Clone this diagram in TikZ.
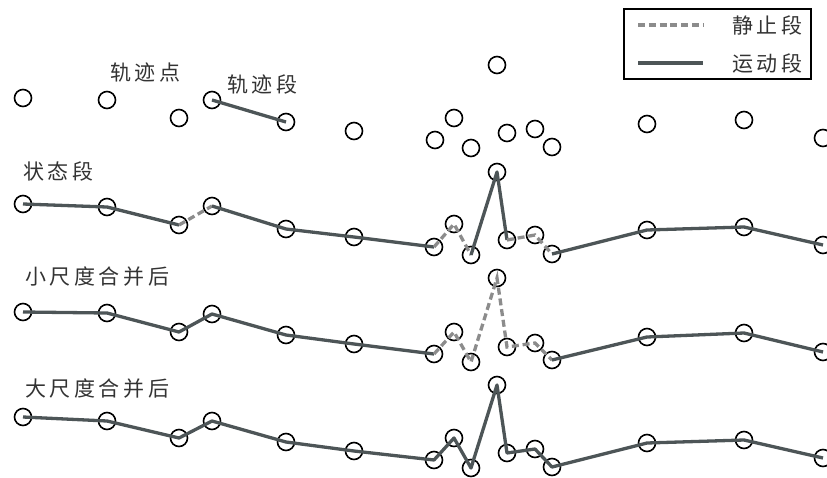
\documentclass[tikz,border=0pt]{standalone}
\usepackage{fontspec}
\newfontfamily\cjk{Noto Sans CJK SC}[LetterSpace=17]
\definecolor{movecol}{HTML}{4D5557}
\definecolor{stopcol}{HTML}{8C8C8C}
\definecolor{labcol}{HTML}{333333}
\tikzset{
  pt/.style={circle, draw=black, line width=1.6pt, minimum size=17pt, inner sep=0pt},
  move/.style={draw=movecol, line width=3.3pt, line join=round},
  stop/.style={draw=stopcol, line width=3.3pt, dash pattern=on 7pt off 3.8pt},
  lab/.style={font=\cjk\fontsize{21}{21}\selectfont, text=labcol, inner sep=0pt, anchor=west}
}
\begin{document}
\begin{tikzpicture}[x=1pt, y=-1pt]
  \useasboundingbox (0,0) rectangle (827,477);

  % trajectory points
  \node[pt] (a1) at (23, 98) {};
  \node[pt] (a2) at (107, 100) {};
  \node[pt] (a3) at (179, 118) {};
  \node[pt] (a4) at (212, 100) {};
  \node[pt] (a5) at (286, 122) {};
  \node[pt] (a6) at (354, 131) {};
  \node[pt] (a7) at (435, 140) {};
  \node[pt] (a8) at (454, 118) {};
  \node[pt] (a9) at (471, 148) {};
  \node[pt] (a10) at (497, 65) {};
  \node[pt] (a11) at (507, 133) {};
  \node[pt] (a12) at (535, 129) {};
  \node[pt] (a13) at (552, 147) {};
  \node[pt] (a14) at (647, 124) {};
  \node[pt] (a15) at (744, 120) {};
  \node[pt] (a16) at (823, 138) {};

  % state segments
  \node[pt] (b1) at (23, 204) {};
  \node[pt] (b2) at (107, 207) {};
  \node[pt] (b3) at (179, 225) {};
  \node[pt] (b4) at (212, 206) {};
  \node[pt] (b5) at (286, 229) {};
  \node[pt] (b6) at (354, 237) {};
  \node[pt] (b7) at (434, 247) {};
  \node[pt] (b8) at (454, 224) {};
  \node[pt] (b9) at (471, 255) {};
  \node[pt] (b10) at (497, 172) {};
  \node[pt] (b11) at (507, 240) {};
  \node[pt] (b12) at (535, 235) {};
  \node[pt] (b13) at (552, 254) {};
  \node[pt] (b14) at (647, 230) {};
  \node[pt] (b15) at (744, 227) {};
  \node[pt] (b16) at (823, 245) {};

  % small scale merge
  \node[pt] (c1) at (23, 312) {};
  \node[pt] (c2) at (107, 313) {};
  \node[pt] (c3) at (179, 332) {};
  \node[pt] (c4) at (212, 314) {};
  \node[pt] (c5) at (286, 335) {};
  \node[pt] (c6) at (354, 344) {};
  \node[pt] (c7) at (434, 354) {};
  \node[pt] (c8) at (454, 332) {};
  \node[pt] (c9) at (471, 362) {};
  \node[pt] (c10) at (497, 278) {};
  \node[pt] (c11) at (507, 347) {};
  \node[pt] (c12) at (535, 343) {};
  \node[pt] (c13) at (552, 360) {};
  \node[pt] (c14) at (647, 337) {};
  \node[pt] (c15) at (744, 333) {};
  \node[pt] (c16) at (823, 352) {};

  % large scale merge
  \node[pt] (d1) at (23, 417) {};
  \node[pt] (d2) at (107, 421) {};
  \node[pt] (d3) at (179, 438) {};
  \node[pt] (d4) at (212, 421) {};
  \node[pt] (d5) at (286, 442) {};
  \node[pt] (d6) at (354, 451) {};
  \node[pt] (d7) at (434, 460) {};
  \node[pt] (d8) at (454, 438) {};
  \node[pt] (d9) at (471, 468) {};
  \node[pt] (d10) at (497, 385) {};
  \node[pt] (d11) at (507, 453) {};
  \node[pt] (d12) at (535, 449) {};
  \node[pt] (d13) at (552, 467) {};
  \node[pt] (d14) at (647, 443) {};
  \node[pt] (d15) at (744, 440) {};
  \node[pt] (d16) at (823, 458) {};

  % segments
  \draw[move] (a4.center) -- (a5.center);

  \draw[move] (b1.center) -- (b2.center) -- (b3.center);
  \draw[stop] (b3.center) -- (b4.center);
  \draw[move] (b4.center) -- (b5.center) -- (b6.center) -- (b7.center);
  \draw[stop] (b7.center) -- (b8.center) -- (b9.center);
  \draw[move] (b9.center) -- (b10.center) -- (b11.center);
  \draw[stop] (b11.center) -- (b12.center) -- (b13.center);
  \draw[move] (b13.center) -- (b14.center) -- (b15.center) -- (b16.center);

  \draw[move] (c1.center) -- (c2.center) -- (c3.center) -- (c4.center) -- (c5.center) -- (c6.center) -- (c7.center);
  \draw[stop] (c7.center) -- (c8.center) -- (c9.center) -- (c10.center) -- (c11.center) -- (c12.center) -- (c13.center);
  \draw[move] (c13.center) -- (c14.center) -- (c15.center) -- (c16.center);

  \draw[move] (d1.center) -- (d2.center) -- (d3.center) -- (d4.center) -- (d5.center) -- (d6.center) -- (d7.center)
    -- (d8.center) -- (d9.center) -- (d10.center) -- (d11.center) -- (d12.center) -- (d13.center)
    -- (d14.center) -- (d15.center) -- (d16.center);

  % labels
  \node[lab] (tpoint) at (110, 73) {轨迹点};
  \node[lab] (tseg) at (227, 84) {轨迹段};
  \node[lab] (sseg) at (23, 171) {状态段};
  \node[lab] (small) at (25, 277) {小尺度合并后};
  \node[lab] (large) at (25, 389) {大尺度合并后};

  % legend
  \draw[line width=1.4pt] (624, 9) rectangle (811, 79);
  \coordinate (ls1) at (638, 25);
  \coordinate (ls2) at (703, 25);
  \coordinate (lm1) at (638, 63);
  \coordinate (lm2) at (703, 63);
  \draw[stop] (ls1) -- (ls2);
  \draw[move] (lm1) -- (lm2);
  \node[lab] (lstop) at (732, 25) {静止段};
  \node[lab] (lmove) at (732, 63) {运动段};
\end{tikzpicture}
\end{document}
